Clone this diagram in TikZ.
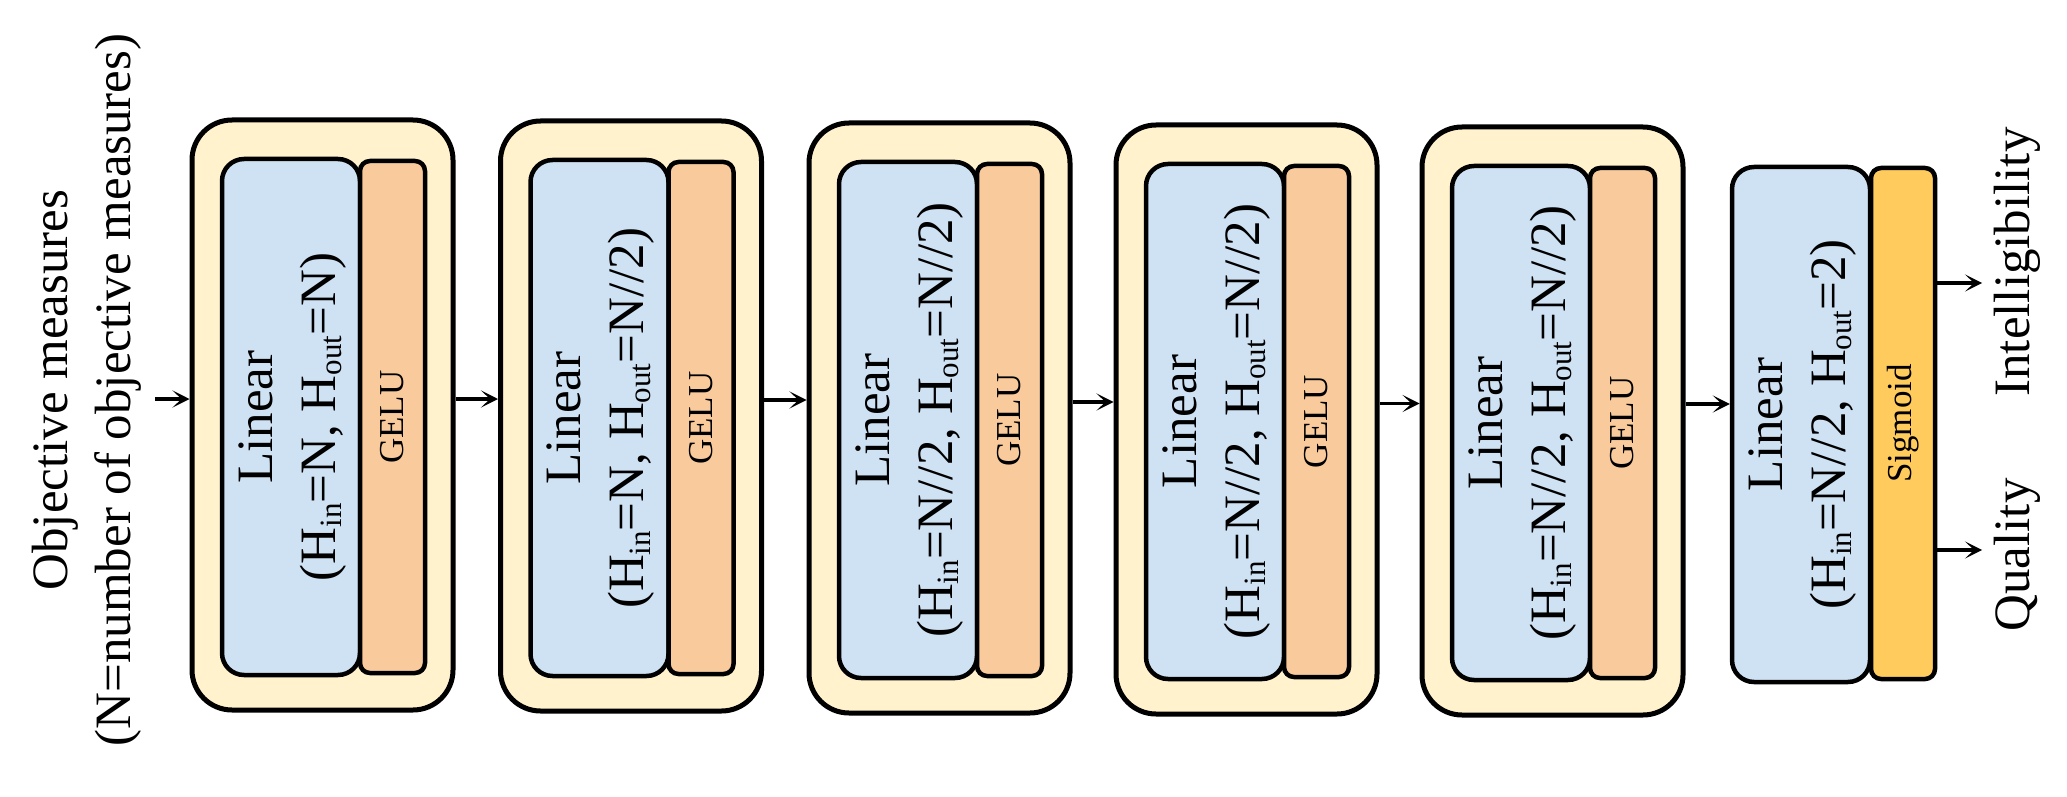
\documentclass[tikz,border=0pt]{standalone}
\usepackage{fontspec}
\setmainfont{Liberation Serif}
\usepackage{graphicx}
\usetikzlibrary{arrows.meta}
\definecolor{outerfill}{HTML}{FFF2CC}
\definecolor{linfill}{HTML}{CFE2F3}
\definecolor{gelufill}{HTML}{F9CB9C}
\definecolor{sigfill}{HTML}{FFCB5C}
\newcommand\lowsub[1]{\raisebox{-0.13em}{\fontsize{31}{31}\selectfont #1}}
\newcommand\mainfs{\fontsize{51}{63}\selectfont}
\newcommand\smallfs{\fontsize{35}{40}\selectfont}
\newcommand\linlabel[2]{\rotatebox{90}{\begin{tabular}{@{}c@{}}Linear\\(H\lowsub{in}=#1, H\lowsub{out}=#2)\end{tabular}}}
\begin{document}
\begin{tikzpicture}[x=1pt,y=-1pt,
  outerbox/.style={draw, line width=5pt, fill=outerfill, rounded corners=40pt, inner sep=0pt},
  linbox/.style={draw, line width=4.5pt, fill=linfill, rounded corners=22pt, inner sep=0pt, font=\mainfs},
  actbox/.style={draw, line width=4.5pt, rounded corners=10pt, inner sep=0pt, font=\smallfs},
  arr/.style={line width=3.5pt, -{Stealth[length=17pt,width=17pt,inset=9pt]}},
  lbl/.style={inner sep=0pt, font=\mainfs, rotate=90, align=center}]
\useasboundingbox (0,0) rectangle (2067,797);

\foreach \i/\L/\T/\B/\hin/\hout in {1/192/120/710/N/N, 2/500.5/121/711/N/{N//2}, 3/809/123/713/{N//2}/{N//2}, 4/1116/125/714/{N//2}/{N//2}, 5/1422/127/715/{N//2}/{N//2}}{
  \pgfmathsetmacro\cx{\L+130.5}
  \pgfmathsetmacro\cy{(\T+\B)/2}
  \pgfmathsetmacro\hh{\B-\T}
  \pgfmathsetmacro\lx{\L+99}
  \pgfmathsetmacro\ly{\cy+2}
  \pgfmathsetmacro\lh{\B-\T-74}
  \pgfmathsetmacro\gx{\L+200.5}
  \pgfmathsetmacro\gh{\B-\T-78}
  \node[outerbox, minimum width=261pt, minimum height=\hh pt] (b\i) at (\cx,\cy) {};
  \node[linbox, minimum width=138pt, minimum height=\lh pt] (lin\i) at (\lx,\ly) {\linlabel{\hin}{\hout}};
  \node[actbox, fill=gelufill, minimum width=65pt, minimum height=\gh pt] (act\i) at (\gx,\ly) {\rotatebox{90}{GELU}};
}

\node[linbox, minimum width=138pt, minimum height=515pt] (lin6) at (1801,424.5) {\linlabel{N//2}{2}};
\node[actbox, fill=sigfill, minimum width=64pt, minimum height=511pt] (sig) at (1903,423.5) {\rotatebox{90}{Sigmoid}};

\node[lbl] (title) at (87,390) {Objective measures\\(N=number of objective measures)};
\node[lbl] (intel) at (2017,262) {Intelligibility};
\node[lbl] (qual) at (2017,555) {Quality};

\coordinate (src) at (155,399);
\coordinate (o1) at (1982,283);
\coordinate (o2) at (1982,550);

\draw[arr] (src) -- (src -| b1.west);
\foreach \i/\j in {1/2,2/3,3/4,4/5}{
  \draw[arr] ([yshift=16pt]b\i.east) -- ([yshift=16pt]b\i.east -| b\j.west);
}
\draw[arr] ([yshift=17pt]b5.east) -- ([yshift=17pt]b5.east -| lin6.west);
\draw[arr] (sig.east |- o1) -- (o1);
\draw[arr] (sig.east |- o2) -- (o2);
\end{tikzpicture}
\end{document}
